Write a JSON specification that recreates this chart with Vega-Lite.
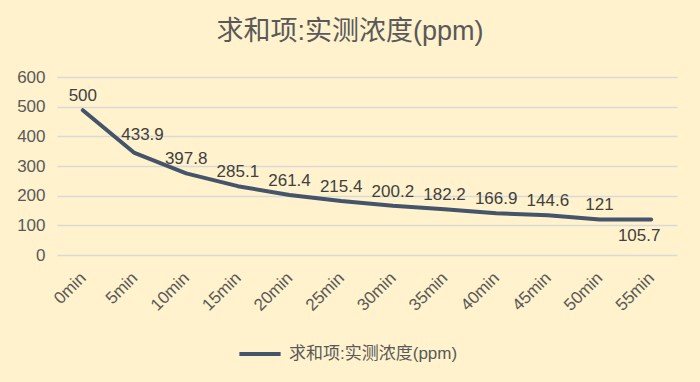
{
  "$schema": "https://vega.github.io/schema/vega-lite/v6.json",
  "autosize": {"type": "none"},
  "width": 620,
  "height": 178,
  "padding": {"left": 57, "top": 77, "right": 23, "bottom": 127},
  "background": "#FFF2CC",
  "title": {
    "text": "求和项:实测浓度(ppm)",
    "font": "Liberation Sans, Noto Sans CJK SC",
    "fontSize": 27,
    "fontWeight": "normal",
    "color": "#595959",
    "anchor": "middle",
    "dx": -17,
    "offset": 22
  },
  "data": {
    "values": [
      {"t": "0min", "v": 488, "label": "500"},
      {"t": "5min", "v": 344, "label": "433.9"},
      {"t": "10min", "v": 275, "label": "397.8"},
      {"t": "15min", "v": 232, "label": "285.1"},
      {"t": "20min", "v": 202, "label": "261.4"},
      {"t": "25min", "v": 182, "label": "215.4"},
      {"t": "30min", "v": 166, "label": "200.2"},
      {"t": "35min", "v": 154, "label": "182.2"},
      {"t": "40min", "v": 141, "label": "166.9"},
      {"t": "45min", "v": 134, "label": "144.6"},
      {"t": "50min", "v": 120, "label": "121"},
      {"t": "55min", "v": 120, "label": "105.7"}
    ]
  },
  "encoding": {
    "x": {
      "field": "t", "type": "ordinal", "sort": null,
      "scale": {"type": "point", "padding": 0.5},
      "axis": {
        "title": null, "labelAngle": -45, "labelAlign": "right", "labelBaseline": "middle",
        "ticks": false, "domain": false, "grid": false, "labelPadding": 20,
        "labelFont": "Liberation Sans", "labelFontSize": 17, "labelColor": "#595959"
      }
    },
    "y": {
      "field": "v", "type": "quantitative",
      "scale": {"domain": [0, 600]},
      "axis": {
        "title": null, "values": [0, 100, 200, 300, 400, 500, 600],
        "ticks": false, "domain": false, "labelPadding": 12,
        "labelFont": "Liberation Sans", "labelFontSize": 17, "labelColor": "#595959",
        "gridColor": "#D9D9D9", "gridWidth": 1.5
      }
    }
  },
  "layer": [
    {
      "mark": {"type": "line", "strokeWidth": 4, "strokeCap": "round", "strokeJoin": "round"},
      "encoding": {
        "color": {
          "datum": "求和项:实测浓度(ppm)",
          "scale": {"range": ["#44546A"]},
          "legend": {
            "title": null, "orient": "none", "legendX": 180, "legendY": 254,
            "symbolType": "stroke", "symbolSize": 1700, "symbolStrokeWidth": 4,
            "labelFont": "Liberation Sans, Noto Sans CJK SC", "labelFontSize": 17,
            "labelColor": "#595959", "labelOffset": 6, "labelLimit": 0
          }
        }
      }
    },
    {
      "transform": [{"filter": "datum.t !== '55min' && datum.t !== '5min'"}],
      "mark": {"type": "text", "dy": -14, "font": "Liberation Sans", "fontSize": 17, "color": "#404040", "baseline": "middle"},
      "encoding": {"text": {"field": "label"}}
    },
    {
      "transform": [{"filter": "datum.t === '5min'"}],
      "mark": {"type": "text", "dy": -18, "dx": 8, "font": "Liberation Sans", "fontSize": 17, "color": "#404040", "baseline": "middle"},
      "encoding": {"text": {"field": "label"}}
    },
    {
      "transform": [{"filter": "datum.t === '55min'"}],
      "mark": {"type": "text", "dy": 17, "dx": -12, "font": "Liberation Sans", "fontSize": 17, "color": "#404040", "baseline": "middle"},
      "encoding": {"text": {"field": "label"}}
    }
  ],
  "config": {"view": {"stroke": null}}
}
